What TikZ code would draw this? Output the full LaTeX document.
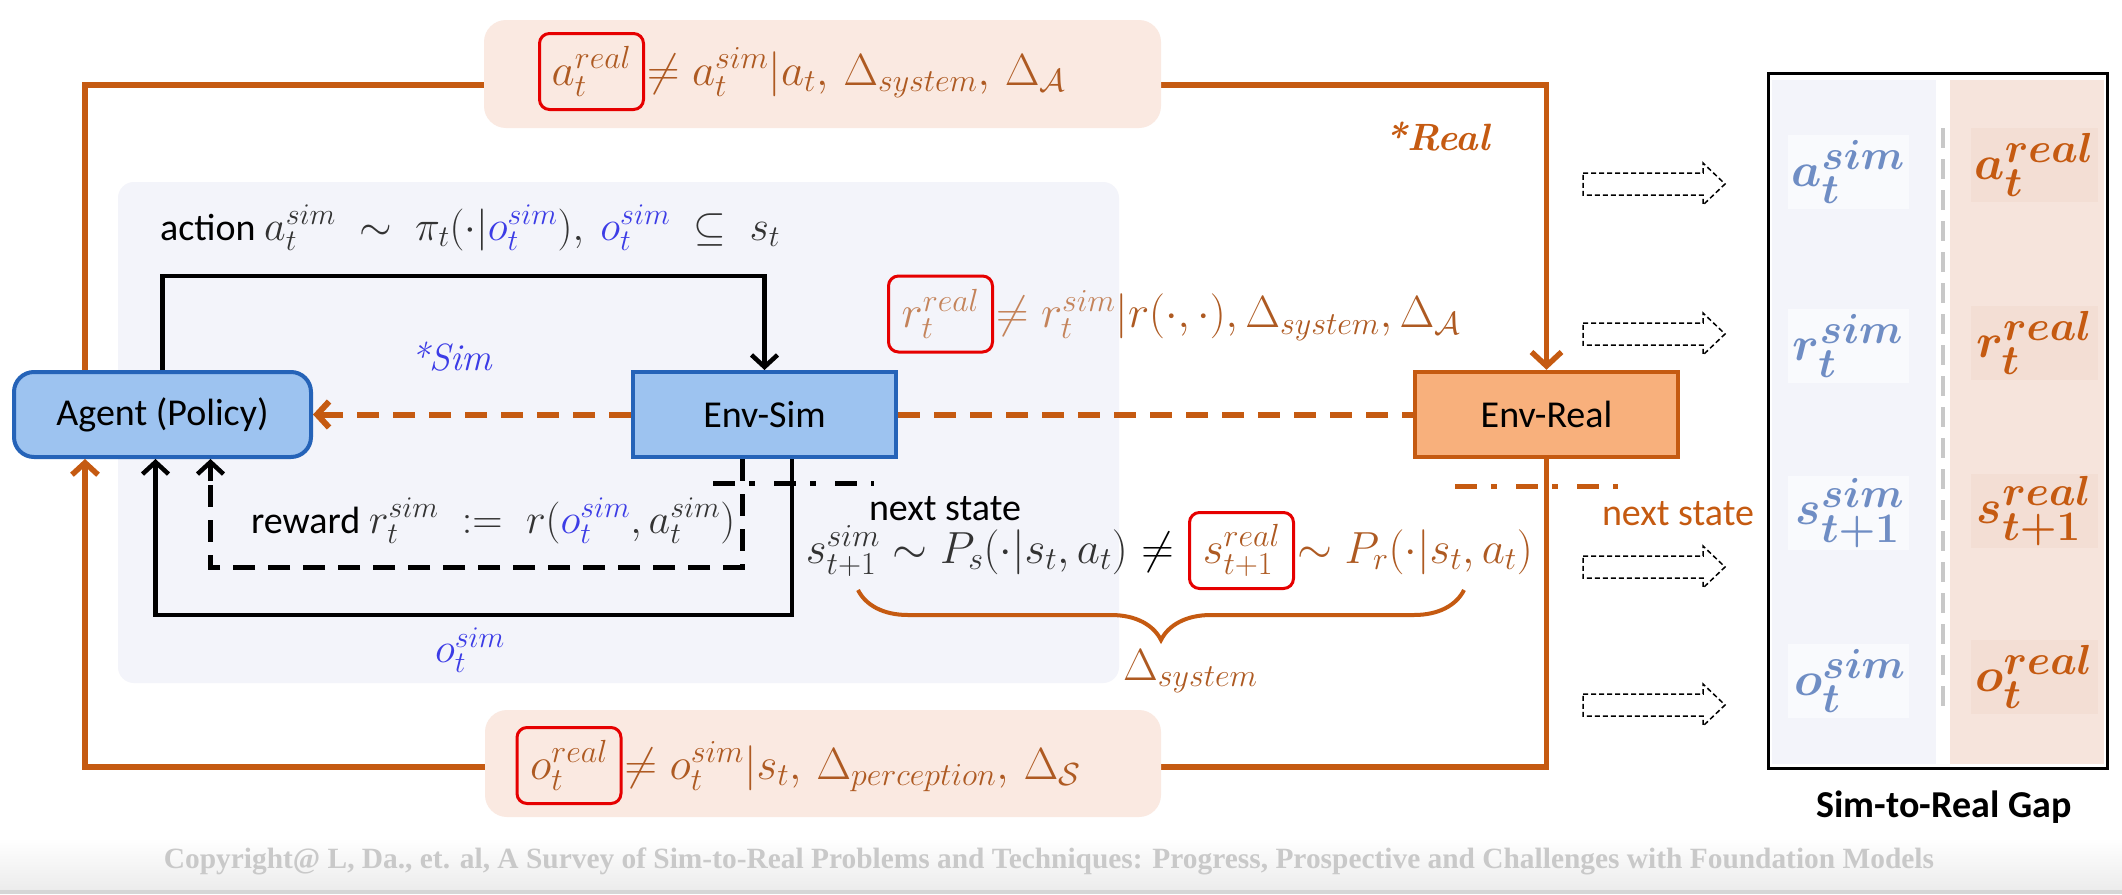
\RequirePackage{fix-cm}
\documentclass[tikz,border=0pt]{standalone}
\usepackage{amsmath,amssymb}
\usepackage[no-math]{fontspec}
\newfontfamily\calib{Carlito}
\newfontfamily\tnr{Liberation Serif}
\usetikzlibrary{arrows.meta,decorations.pathreplacing,calc}
\DeclareMathSizes{42}{42}{30}{22}
\DeclareMathSizes{45}{45}{32}{24}
\DeclareMathSizes{48}{48}{42}{32}
\definecolor{ored}{HTML}{C55A11}
\definecolor{otxt}{HTML}{AE5A22}
\definecolor{olight}{HTML}{C4835A}
\definecolor{pinkbg}{HTML}{FAE9E1}
\definecolor{panel}{HTML}{F3F4FA}
\definecolor{bfill}{HTML}{9DC3F0}
\definecolor{bdraw}{HTML}{2563B8}
\definecolor{rfill}{HTML}{F8B07C}
\definecolor{simblue}{HTML}{3C3CE6}
\definecolor{gapsim}{HTML}{6F8DC4}
\definecolor{mgray}{HTML}{333333}
\definecolor{cpgray}{HTML}{C9C9C9}
\definecolor{redb}{HTML}{E60000}
\definecolor{gappink}{HTML}{F6E4DC}
\definecolor{gappink2}{HTML}{F3DED4}
\definecolor{gapwhite}{HTML}{F9FAFD}
\definecolor{bggrad}{HTML}{ECECEC}
\definecolor{bgline}{HTML}{D6D6D6}
\definecolor{divgray}{HTML}{C8C8C8}
\begin{document}
\begin{tikzpicture}[x=1pt,y=-1pt,
  lbl/.style={font=\calib\fontsize{38}{44}\selectfont, inner sep=0pt},
  mth/.style={font=\fontsize{45}{52}\selectfont, inner sep=0pt},
  gapm/.style={font=\fontsize{48}{56}\selectfont\boldmath, inner sep=0pt},
  bluebox/.style={draw=bdraw, fill=bfill, line width=4pt, minimum height=85pt, inner sep=0pt, font=\calib\fontsize{38}{44}\selectfont},
  realbox/.style={draw=ored, fill=rfill, line width=4.5pt, minimum height=85pt, inner sep=0pt, font=\calib\fontsize{38}{44}\selectfont},
  pinkbox/.style={fill=pinkbg, rounded corners=22pt, inner sep=0pt},
  redbox/.style={draw=redb, line width=3pt, rounded corners=10pt, minimum width=104pt, minimum height=76pt, inner sep=0pt, font=\fontsize{45}{52}\selectfont, text=otxt},
  oline/.style={draw=ored, line width=5.5pt},
  blk/.style={draw=black, line width=4.5pt},
  odash/.style={draw=ored, line width=6pt, dash pattern=on 22pt off 14pt},
  bdash/.style={draw=black, line width=5pt, dash pattern=on 22pt off 13pt},
  dashdot/.style={line width=5pt, dash pattern=on 22pt off 14pt on 6pt off 19pt},
  barb/.style={-{Straight Barb[length=12pt,width=26pt]}},
  hollow/.style={draw=black, line width=1.5pt, dash pattern=on 5pt off 3pt, line join=miter},
]
\useasboundingbox (0,0) rectangle (2122,894);
\fill[white] (0,0) rectangle (2122,894);
\shade[top color=white, bottom color=bggrad] (0,838) rectangle (2122,890);
\fill[bgline] (0,890) rectangle (2122,894);

% sim panel
\node[fill=panel, rounded corners=16pt, minimum width=1001pt, minimum height=501pt, inner sep=0pt] (panel) at (618.5,432.5) {};

% gap box fills
\fill[panel] (1772,80) rectangle (1936,764);
\fill[gappink] (1950,80) rectangle (2104,764);
\foreach \yy in {172,346,513,681} {\fill[gapwhite] (1788,\yy-37) rectangle (1909,\yy+37);}
\foreach \yy in {165,343,511,677} {\fill[gappink2] (1971,\yy-37) rectangle (2098,\yy+37);}
\draw[divgray, line width=4pt, dash pattern=on 20pt off 11pt] (1943,128) -- (1943,712);
\node[draw=black, line width=3pt, minimum width=339pt, minimum height=695pt, inner sep=0pt] (gapbox) at (1937.5,420.5) {};

% main boxes
\node[bluebox, rounded corners=20pt, minimum width=297pt] (Agent) at (162.5,414.5) {Agent (Policy)};
\node[bluebox, minimum width=263pt] (EnvSim) at (764.5,414.5) {Env-Sim};
\node[realbox, minimum width=263pt] (EnvReal) at (1546.5,414.5) {Env-Real};

\coordinate (oL) at (85,0);
\coordinate (topY) at (0,85);
\coordinate (botY) at (0,767);
\coordinate (actY) at (0,276);

% orange real loop
\draw[oline, line join=miter, -{Straight Barb[length=14pt,width=30pt]}] (Agent.north -| oL) -- (oL |- topY) -- (EnvReal.north |- topY) -- (EnvReal.north);
\draw[oline, line join=miter, -{Straight Barb[length=12pt,width=26pt]}] (EnvReal.south) -- (EnvReal.south |- botY) -- (oL |- botY) -- (Agent.south -| oL);

% sim loop
\draw[blk, barb, line join=miter] (Agent.north) -- (Agent.north |- actY) -| (EnvSim.north);
\draw[blk, barb, line join=miter] ([xshift=27.5pt]EnvSim.south) -- ++(0,156) -| ([xshift=-7pt]Agent.south);
\draw[bdash, line join=miter] ([xshift=-22.5pt]EnvSim.south) -- ++(0,108) -| ([xshift=48pt,yshift=-16pt]Agent.south);
\draw[black, line width=4.5pt, barb] ([xshift=48pt,yshift=-22pt]Agent.south) -- ([xshift=48pt]Agent.south);
\draw[odash, -{Straight Barb[length=12pt,width=26pt]}] (EnvSim.west) -- (Agent.east);
\draw[odash] (EnvSim.east) -- (EnvReal.west);

% dash-dot next state markers
\coordinate (dd1) at (713,483); \coordinate (dd2) at (874,483);
\draw[dashdot, black] (dd1) -- (dd2);
\coordinate (od1) at (1455,486); \coordinate (od2) at (1618,486);
\draw[dashdot, ored] (od1) -- (od2);

% pink formula boxes
\node[pinkbox, minimum width=677pt, minimum height=108pt] (topbox) at (822.5,74) {};
\node[pinkbox, minimum width=676pt, minimum height=107pt] (botbox) at (823,763.5) {};

% formulas
\node[redbox] (ar) at (591.5,71.5) {$a_t^{real}$};
\node[mth, text=otxt, anchor=base west] (af) at ([xshift=2pt]ar.base east) {$\neq a_t^{sim}|a_t,\, \Delta_{system},\, \Delta_{\mathcal{A}}$};

\node[redbox, text=olight] (rr) at (940.5,314) {$r_t^{real}$};
\node[mth, text=otxt, anchor=base west] (rf) at ([xshift=2pt]rr.base east) {${\color{olight}\neq r_t^{sim}}|r(\cdot,\cdot), \Delta_{system}, \Delta_{\mathcal{A}}$};

\node[redbox] (sr) at (1241.5,550.5) {$s_{t+1}^{real}$};
\node[mth, text=otxt, anchor=base west] (srf) at ([xshift=2pt]sr.base east) {$\sim P_r(\cdot|s_t,a_t)$};
\node[mth, text=mgray, anchor=base east] (ssf) at ([xshift=-14pt]sr.base west) {$s_{t+1}^{sim} \sim P_s(\cdot|s_t,a_t)\ {\color{black}\neq}$};

\node[redbox] (or) at (569,765.5) {$o_t^{real}$};
\node[mth, text=otxt, anchor=base west] (of) at ([xshift=2pt]or.base east) {$\neq o_t^{sim}|s_t,\, \Delta_{perception},\, \Delta_{\mathcal{S}}$};

\node[lbl, anchor=base west] (act) at (160,240) {action\ \fontsize{42}{48}\selectfont$\color{mgray} a_t^{sim}\;\sim\;\pi_t(\cdot|{\color{simblue}o_t^{sim}}),\ {\color{simblue}o_t^{sim}}\;\subseteq\;s_t$};
\node[lbl, anchor=base west] (rew) at (251,533) {reward\ \fontsize{42}{48}\selectfont$\color{mgray} r_t^{sim}\;:=\;r({\color{simblue}o_t^{sim}},a_t^{sim})$};
\node[lbl, anchor=base] (ns) at (945,520) {next state};
\node[lbl, text=ored, anchor=base] (ns2) at (1678,525) {next state};
\node[font=\fontsize{42}{48}\selectfont, inner sep=0pt, text=simblue] (obs) at (470,650) {$o_t^{sim}$};
\node[font=\fontsize{38}{44}\selectfont\itshape, text=simblue, inner sep=0pt] (simlbl) at (451,357) {*Sim};
\node[font=\fontsize{38}{44}\selectfont\bfseries\itshape, text=ored, inner sep=0pt] (reallbl) at (1437,137) {*Real};

% brace
\coordinate (br1) at (858,590); \coordinate (br2) at (1464,590);
\draw[ored, line width=4pt, decorate, decoration={brace, mirror, amplitude=50pt}] (br1) -- (br2);
\node[mth, text=otxt, anchor=base west] (dsys) at (1123,680) {$\Delta_{system}$};

% hollow arrows
\foreach \nm/\yy in {h1/184,h2/334,h3/567,h4/705} {
  \coordinate (\nm) at (1654,\yy);
  \draw[hollow] (\nm) ++(-71,-11) -- ++(120,0) -- ++(0,-10) -- ++(22,21) -- ++(-22,21) -- ++(0,-10) -- ++(-120,0) -- cycle;
}

% gap entries
\node[gapm, text=gapsim] (g1) at (1848,172) {$a_t^{sim}$};
\node[gapm, text=gapsim] (g2) at (1848,346) {$r_t^{sim}$};
\node[gapm, text=gapsim] (g3) at (1850,513) {$s_{t+1}^{sim}$};
\node[gapm, text=gapsim] (g4) at (1850,681) {$o_t^{sim}$};
\node[gapm, text=ored] (g5) at (2034,165) {$a_t^{real}$};
\node[gapm, text=ored] (g6) at (2034,343) {$r_t^{real}$};
\node[gapm, text=ored] (g7) at (2034,511) {$s_{t+1}^{real}$};
\node[gapm, text=ored] (g8) at (2034,677) {$o_t^{real}$};
\node[font=\calib\bfseries\fontsize{38}{44}\selectfont, anchor=base, inner sep=0pt] (gaplbl) at (1944,817) {Sim-to-Real Gap};

% copyright
\node[font=\tnr\bfseries\fontsize{29.4}{34}\selectfont, text=cpgray, anchor=base, inner sep=0pt] (copy) at (1049,868) {Copyright@ L, Da., et. al, A Survey of Sim-to-Real Problems and Techniques: Progress, Prospective and Challenges with Foundation Models};
\end{tikzpicture}
\end{document}
